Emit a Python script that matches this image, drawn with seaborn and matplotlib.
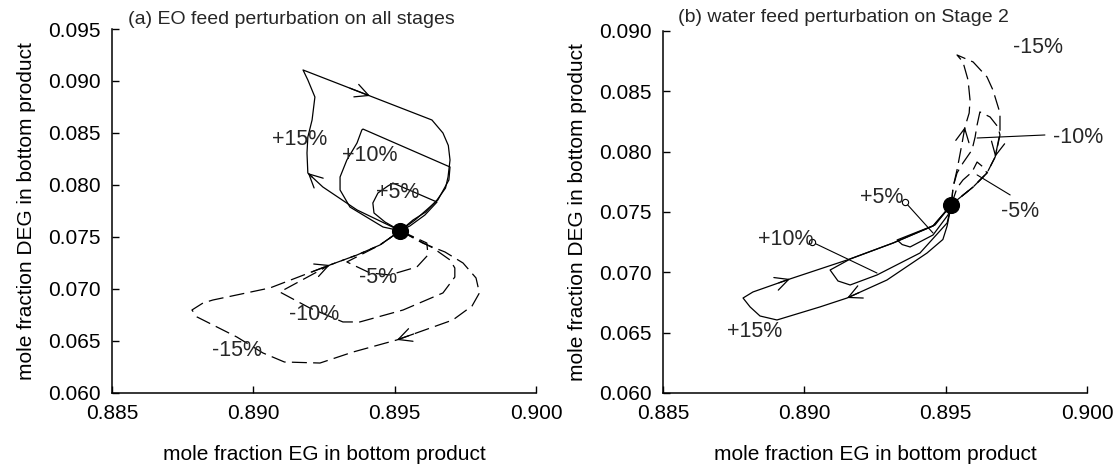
import numpy as np
import pandas as pd
import matplotlib
matplotlib.use("Agg")
import matplotlib.pyplot as plt
import seaborn as sns

# steady state (shared by both panels)
steady_x = [0.8952]
steady_y = [0.0756]

# ---- panel (a): EO feed perturbation on all stages ----
a_p15_x = [0.8952, 0.89367, 0.89246, 0.89193, 0.8919, 0.89193, 0.89208, 0.89218, 0.89193, 0.89176,
           0.89413, 0.89632, 0.89671, 0.8969, 0.89696, 0.89689, 0.8968, 0.8965, 0.8961, 0.89565, 0.8952]
a_p15_y = [0.0756, 0.0776, 0.07981, 0.08115, 0.08308, 0.08461, 0.08625, 0.08846, 0.0901, 0.09106,
           0.08856, 0.08625, 0.0850, 0.0838, 0.0824, 0.08077, 0.0797, 0.07856, 0.0774, 0.07663, 0.0756]
a_p10_x = [0.8952, 0.89459, 0.89342, 0.89307, 0.89307, 0.89331, 0.89367, 0.89384, 0.89388,
           0.89696, 0.89692, 0.89653, 0.89572, 0.8952]
a_p10_y = [0.0756, 0.07596, 0.07788, 0.07952, 0.08077, 0.0824, 0.08404, 0.08529, 0.08538,
           0.08173, 0.08048, 0.07856, 0.07663, 0.0756]
a_p5_x = [0.8952, 0.89466, 0.89427, 0.89423, 0.89441, 0.89476, 0.89494, 0.8965, 0.89607, 0.89554, 0.8952]
a_p5_y = [0.0756, 0.07644, 0.07731, 0.07827, 0.07923, 0.0799, 0.08019, 0.07836, 0.07711, 0.07606, 0.0756]
a_m5_x = [0.8952, 0.89614, 0.89618, 0.89579, 0.89483, 0.89413, 0.89331, 0.89448, 0.8952]
a_m5_y = [0.0756, 0.07442, 0.07327, 0.07212, 0.07135, 0.07154, 0.0726, 0.07423, 0.0756]
a_m10_x = [0.8952, 0.89636, 0.89696, 0.89713, 0.89713, 0.89671, 0.8953, 0.89377, 0.89317, 0.8920,
           0.89094, 0.89271, 0.89367, 0.89448, 0.8952]
a_m10_y = [0.0756, 0.07394, 0.07279, 0.07202, 0.07115, 0.06962, 0.06798, 0.06683, 0.06683, 0.06817,
           0.06971, 0.07231, 0.07327, 0.07423, 0.0756]
a_m15_x = [0.8952, 0.8960, 0.89678, 0.89742, 0.89788, 0.8980, 0.89774, 0.89706, 0.89508, 0.89353,
           0.89236, 0.8911, 0.89034, 0.88942, 0.88801, 0.88783, 0.88822, 0.88857, 0.89059, 0.89271,
           0.89367, 0.89448, 0.8952]
a_m15_y = [0.0756, 0.0744, 0.07356, 0.0725, 0.07106, 0.06962, 0.06837, 0.06702, 0.0651, 0.06394,
           0.06288, 0.06298, 0.06385, 0.06538, 0.06731, 0.06798, 0.06865, 0.06894, 0.0701, 0.07231,
           0.07327, 0.07423, 0.0756]

# ---- panel (b): water feed perturbation on Stage 2 ----
b_p15_x = [0.8952, 0.89505, 0.8949, 0.89434, 0.89292, 0.89151, 0.89055, 0.88903, 0.88843, 0.88808,
           0.88783, 0.88818, 0.88949, 0.89151, 0.89314, 0.89455, 0.8952]
b_p15_y = [0.0756, 0.07384, 0.07272, 0.0716, 0.06936, 0.06787, 0.06713, 0.06605, 0.06638, 0.06713,
           0.06787, 0.06837, 0.06945, 0.07102, 0.07243, 0.07384, 0.0756]
b_p10_x = [0.8952, 0.89505, 0.89409, 0.89257, 0.89162, 0.89119, 0.89091, 0.89162, 0.89314, 0.89455, 0.8952]
b_p10_y = [0.0756, 0.07409, 0.0716, 0.06978, 0.06895, 0.06928, 0.07019, 0.0711, 0.07243, 0.07384, 0.0756]
b_p5_x = [0.8952, 0.89508, 0.89455, 0.89374, 0.89346, 0.89328, 0.89462, 0.8952]
b_p5_y = [0.0756, 0.07475, 0.07309, 0.0721, 0.0723, 0.07268, 0.07392, 0.0756]
b_m5_x = [0.8952, 0.8954, 0.89561, 0.89593, 0.89611, 0.89632, 0.89646, 0.89597, 0.8954, 0.8952]
b_m5_y = [0.0756, 0.07699, 0.07765, 0.07831, 0.07914, 0.07873, 0.07823, 0.07707, 0.07599, 0.0756]
b_m10_x = [0.8952, 0.89526, 0.8954, 0.89561, 0.89593, 0.89604, 0.89611, 0.89621, 0.89657,
           0.89685, 0.89692, 0.89675, 0.89646, 0.89597, 0.8954, 0.8952]
b_m10_y = [0.0756, 0.07707, 0.07823, 0.07906, 0.08014, 0.08121, 0.08221, 0.08329, 0.08287,
           0.08204, 0.08138, 0.07956, 0.07823, 0.07707, 0.07599, 0.0756]
b_m15_x = [0.8952, 0.89526, 0.8954, 0.89558, 0.89568, 0.89583, 0.89586, 0.89579, 0.89561, 0.8954,
           0.89597, 0.89646, 0.89667, 0.89692, 0.89692, 0.89675, 0.89646, 0.89597, 0.8954, 0.8952]
b_m15_y = [0.0756, 0.07707, 0.07848, 0.08072, 0.08204, 0.0832, 0.08428, 0.08594, 0.08743, 0.08801,
           0.08743, 0.08619, 0.08511, 0.0832, 0.08155, 0.07956, 0.07823, 0.07707, 0.07599, 0.0756]

x_ticks = [0.885, 0.890, 0.895, 0.900]
a_y_ticks = [0.060, 0.065, 0.070, 0.075, 0.080, 0.085, 0.090, 0.095]
b_y_ticks = [0.060, 0.065, 0.070, 0.075, 0.080, 0.085, 0.090]

DASH = (0, (12, 5))

sns.set_theme(style="ticks")
plt.rcParams["font.family"] = ["Liberation Sans", "DejaVu Sans"]
plt.rcParams["lines.solid_joinstyle"] = "round"
plt.rcParams["lines.dash_joinstyle"] = "round"

fig = plt.figure(figsize=(11.14, 4.67), dpi=100)
ax_a = fig.add_axes([0.1005, 0.1585, 0.3806, 0.7794])
ax_b = fig.add_axes([0.5952, 0.1585, 0.3806, 0.7752])


def draw_curve(ax, xs, ys, dashed=False, arrows=()):
    df = pd.DataFrame({"x": xs, "y": ys})
    kw = {"linestyle": DASH} if dashed else {}
    sns.lineplot(data=df, x="x", y="y", sort=False, estimator=None,
                 color="black", lw=0.9, ax=ax, **kw)
    # open arrow heads placed on the segment ending at point i
    for i in arrows:
        hx, hy = xs[i], ys[i]
        tx = hx - 0.3 * (hx - xs[i - 1])
        ty = hy - 0.3 * (hy - ys[i - 1])
        ax.annotate("", xy=(hx, hy), xytext=(tx, ty),
                    arrowprops=dict(arrowstyle="->", color="black", lw=0.9,
                                    mutation_scale=24, shrinkA=0, shrinkB=0))


# panel (a)
draw_curve(ax_a, a_p15_x, a_p15_y, arrows=(3, 10))
draw_curve(ax_a, a_p10_x, a_p10_y)
draw_curve(ax_a, a_p5_x, a_p5_y)
draw_curve(ax_a, a_m5_x, a_m5_y, dashed=True)
draw_curve(ax_a, a_m10_x, a_m10_y, dashed=True)
draw_curve(ax_a, a_m15_x, a_m15_y, dashed=True, arrows=(8, 19))

# panel (b)
draw_curve(ax_b, b_p15_x, b_p15_y, arrows=(5, 12))
draw_curve(ax_b, b_p10_x, b_p10_y)
draw_curve(ax_b, b_p5_x, b_p5_y)
draw_curve(ax_b, b_m5_x, b_m5_y, dashed=True)
draw_curve(ax_b, b_m10_x, b_m10_y, dashed=True)
draw_curve(ax_b, b_m15_x, b_m15_y, dashed=True, arrows=(4, 15))

for ax in (ax_a, ax_b):
    sns.scatterplot(x=steady_x, y=steady_y, s=130, color="black",
                    edgecolor="black", zorder=5, ax=ax)

fs = 15.5

# curve labels, panel (a)
for txt, x, y in [("+15%", 0.89165, 0.08433), ("+10%", 0.89413, 0.08288),
                  ("+5%", 0.89512, 0.07923), ("-5%", 0.89441, 0.07106),
                  ("-10%", 0.89215, 0.0675), ("-15%", 0.88941, 0.06413)]:
    ax_a.text(x, y, txt, ha="center", va="center", fontsize=fs)

# curve labels, panel (b)
for txt, x, y in [("+15%", 0.88825, 0.06506), ("+10%", 0.88935, 0.07268),
                  ("+5%", 0.89275, 0.07616), ("-5%", 0.89763, 0.0750),
                  ("-10%", 0.8997, 0.08113), ("-15%", 0.89825, 0.08859)]:
    ax_b.text(x, y, txt, ha="center", va="center", fontsize=fs)

# leader lines in panel (b)
for (x0, y0), (x1, y1), dot in [((0.89356, 0.07583), (0.89455, 0.07326), True),
                                ((0.89027, 0.07251), (0.89257, 0.06994), True),
                                ((0.89728, 0.07641), (0.89611, 0.07807), False),
                                ((0.89851, 0.08138), (0.89611, 0.08113), False)]:
    ax_b.plot([x0, x1], [y0, y1], color="black", lw=0.8)
    if dot:
        ax_b.plot([x0], [y0], marker="o", ms=4.5, mfc="white", mec="black", mew=0.8)

ax_a.set_xlim(0.885, 0.900)
ax_a.set_ylim(0.060, 0.095)
ax_a.set_yticks(a_y_ticks)
ax_b.set_xlim(0.885, 0.900)
ax_b.set_ylim(0.060, 0.090)
ax_b.set_yticks(b_y_ticks)

for ax in (ax_a, ax_b):
    ax.set_xticks(x_ticks)
    ax.xaxis.set_major_formatter(matplotlib.ticker.FormatStrFormatter("%.3f"))
    ax.yaxis.set_major_formatter(matplotlib.ticker.FormatStrFormatter("%.3f"))
    ax.tick_params(direction="in", length=5, width=1, color="black",
                   labelsize=15, pad=8, labelcolor="black")
    sns.despine(ax=ax)
    for s in ("left", "bottom"):
        ax.spines[s].set_color("black")
        ax.spines[s].set_linewidth(1.1)
    ax.set_xlabel("mole fraction EG in bottom product", fontsize=15, labelpad=16, color="black")
    ax.set_ylabel("mole fraction DEG in bottom product", fontsize=15, labelpad=9, color="black")

ax_a.text(0.038, 1.025, "(a) EO feed perturbation on all stages", transform=ax_a.transAxes,
          fontsize=14, va="center", ha="left")
ax_b.text(0.035, 1.036, "(b) water feed perturbation on Stage 2", transform=ax_b.transAxes,
          fontsize=14, va="center", ha="left")

fig.savefig("out.png", dpi=100)
